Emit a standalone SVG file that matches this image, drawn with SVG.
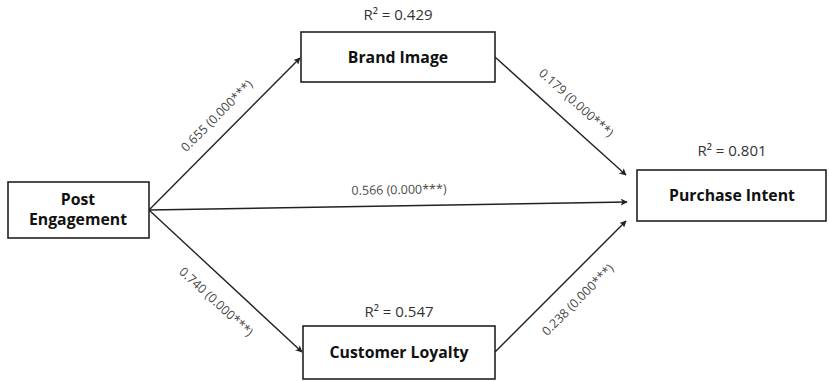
<svg xmlns="http://www.w3.org/2000/svg" width="829" height="381" viewBox="0 0 829 381">
<style>
.box{fill:#fff;stroke:#222;stroke-width:1.6}
.nt{font-family:"Open Sans","Noto Sans",sans-serif;font-weight:bold;font-size:15.8px;fill:#111;text-anchor:middle}
.r2{font-family:"Open Sans","Noto Sans",sans-serif;font-size:15px;fill:#333;text-anchor:middle}
.el{font-family:"Open Sans","Noto Sans",sans-serif;font-size:12.5px;fill:#4a4a4a;text-anchor:middle}
.ln{stroke:#222;stroke-width:1.4;fill:none;marker-end:url(#ah)}
</style>
<defs>
<marker id="ah" viewBox="0 0 10 10" refX="9" refY="5" markerWidth="7" markerHeight="7" markerUnits="userSpaceOnUse" orient="auto">
<path d="M0,0 L10,5 L0,10 L2.5,5 z" fill="#222"/>
</marker>
</defs>
<rect width="829" height="381" fill="#fff"/>
<g id="connectors">
<line class="ln" x1="149" y1="210" x2="300" y2="58"/>
<line class="ln" x1="495" y1="57" x2="626" y2="175"/>
<line class="ln" x1="149" y1="210" x2="627" y2="202"/>
<line class="ln" x1="149" y1="210" x2="302" y2="352"/>
<line class="ln" x1="495" y1="352" x2="626" y2="221"/>
<text class="el" transform="translate(217,116) rotate(-45)" dy="4">0.655 (0.000***)</text>
<text class="el" transform="translate(576,103) rotate(42)" dy="4">0.179 (0.000***)</text>
<text class="el" transform="translate(399,190) rotate(-1)" dy="4">0.566 (0.000***)</text>
<text class="el" transform="translate(216,302) rotate(42.5)" dy="4">0.740 (0.000***)</text>
<text class="el" transform="translate(578,300) rotate(-45)" dy="4">0.238 (0.000***)</text>
</g>
<g id="post-engagement">
<rect class="box" x="8" y="182" width="141" height="56"/>
<text class="nt" x="78" y="205">Post</text>
<text class="nt" x="78" y="225">Engagement</text>
</g>
<g id="brand-image">
<text class="r2" x="398" y="20">R² = 0.429</text>
<rect class="box" x="301" y="32" width="194" height="50"/>
<text class="nt" x="398" y="63">Brand Image</text>
</g>
<g id="customer-loyalty">
<text class="r2" x="399" y="317">R² = 0.547</text>
<rect class="box" x="303" y="326" width="192" height="53"/>
<text class="nt" x="399" y="358">Customer Loyalty</text>
</g>
<g id="purchase-intent">
<text class="r2" x="732" y="156">R² = 0.801</text>
<rect class="box" x="637" y="170" width="189" height="51"/>
<text class="nt" x="732" y="201">Purchase Intent</text>
</g>
</svg>
